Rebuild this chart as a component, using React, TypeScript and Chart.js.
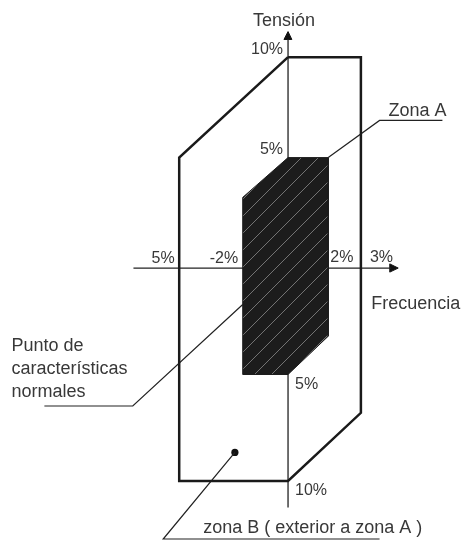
import React, { useEffect, useRef } from "react";
import { Chart, registerables, LinearScale } from "chart.js";

// ---------- data (deviation in %) ----------
// Zona B boundary (outer hexagon): [frequency %, voltage %]
const zoneBOutline: number[][] = [[0, 10], [3, 10], [3, -6.8], [0, -10], [-5, -10], [-5, 5], [0, 10]];
// Zona A (shaded)
const zoneAOutline: number[][] = [[0, 5], [2, 5], [2, -3.2], [0, -5], [-2, -5], [-2, 3.2], [0, 5]];
// Axes
const voltageAxis: number[][] = [[0, -11.25], [0, 10.85]];
const frequencyAxis: number[][] = [[-7.06, 0], [4.35, 0]];
const voltageArrow: number[][] = [[-0.18, 10.83], [0, 11.2], [0.19, 10.83], [-0.18, 10.83]];
const frequencyArrow: number[][] = [[4.3, 0.19], [4.68, 0], [4.3, -0.19], [4.3, 0.19]];
// Leader lines for the annotations
const leaderZonaA: number[][] = [[2, 5], [3.84, 6.85], [6.67, 6.85]];
const leaderPunto: number[][] = [[-2, -1.71], [-7.09, -6.48], [-11.07, -6.48]];
const leaderZonaB: number[][] = [[-2.37, -8.66], [-5.72, -12.73], [3.84, -12.73]];
const zonaBMarker: number[][] = [[-2.37, -8.66]];

// Tick labels
const voltageTickValues = [10, 5, -5, -10];
const voltageTickLabels = ["10%", "5%", "5%", "10%"];
const frequencyTickValues = [-5, -2, 2, 3];
const frequencyTickLabels = ["5%", "-2%", "2%", "3%"];

// Texts
const voltageTitle = "Tensión";
const frequencyTitle = "Frecuencia";
const zonaALabel = "Zona A";
const puntoLabel = ["Punto de", "características", "normales"];
const zonaBLabel = "zona B ( exterior a zona A )";

// Schematic (non-proportional) axis calibration: value -> drawing position
const X_KNOTS: number[][] = [[-5, -4.9], [-2, -2.04], [0, 0], [2, 1.81], [3, 3.28]];
const Y_KNOTS: number[][] = [[-10, -10], [-5, -5], [0, 0], [5, 5.19], [10, 9.91]];

function warp(v: number, k: number[][]): number {
  const n = k.length;
  if (v <= k[0][0]) return k[0][1] + (v - k[0][0]);
  if (v >= k[n - 1][0]) return k[n - 1][1] + (v - k[n - 1][0]);
  for (let i = 0; i < n - 1; i++) {
    if (v <= k[i + 1][0]) {
      const t = (v - k[i][0]) / (k[i + 1][0] - k[i][0]);
      return k[i][1] + t * (k[i + 1][1] - k[i][1]);
    }
  }
  return v;
}

class WarpScale extends LinearScale {
  static id = "warp";
  static defaults = {};
  getPixelForValue(value: number, index?: number) {
    const knots = (this as any).id === "x" ? X_KNOTS : Y_KNOTS;
    return super.getPixelForValue(warp(value, knots), index);
  }
}

Chart.register(...registerables, WarpScale);

const WORD_FONT = "18px 'Liberation Sans', Arial, sans-serif";
const TICK_FONT = "16px 'Liberation Sans', Arial, sans-serif";
const TEXT_COLOR = "#383838";

const pts = (a: number[][]) => a.map(([x, y]) => ({ x, y }));

function makeHatch(): CanvasPattern | string {
  const s = 17;
  const c = document.createElement("canvas");
  c.width = s;
  c.height = s;
  const g = c.getContext("2d");
  if (!g) return "#1c1c1c";
  g.fillStyle = "#1c1c1c";
  g.fillRect(0, 0, s, s);
  g.strokeStyle = "rgba(165,165,165,0.8)";
  g.lineWidth = 0.8;
  g.beginPath();
  g.moveTo(-2, s + 2);
  g.lineTo(s + 2, -2);
  g.moveTo(-2, 2);
  g.lineTo(2, -2);
  g.moveTo(s - 2, s + 2);
  g.lineTo(s + 2, s - 2);
  g.stroke();
  const p = g.createPattern(c, "repeat");
  return p || "#1c1c1c";
}

const labelPlugin = {
  id: "diagramLabels",
  afterDatasetsDraw(chart: any) {
    const { ctx } = chart;
    const xs = chart.scales.x;
    const ys = chart.scales.y;
    const px = (v: number) => xs.getPixelForValue(v);
    const py = (v: number) => ys.getPixelForValue(v);
    ctx.save();
    ctx.fillStyle = TEXT_COLOR;
    ctx.textBaseline = "alphabetic";
    const put = (t: string, x: number, y: number, align: CanvasTextAlign) => {
      ctx.textAlign = align;
      ctx.fillText(t, x, y);
    };
    ctx.font = TICK_FONT;
    voltageTickValues.forEach((v, i) => {
      if (v > 0) put(voltageTickLabels[i], px(0) - 5, py(v) - 3.5, "right");
      else put(voltageTickLabels[i], px(0) + 7, py(v) + 14.5, "left");
    });
    const lastF = frequencyTickValues[frequencyTickValues.length - 1];
    frequencyTickValues.forEach((v, i) => {
      if (v < 0) put(frequencyTickLabels[i], px(v) - 4.5, py(0) - 5, "right");
      else put(frequencyTickLabels[i], px(v) + (v === lastF ? 9 : 2), py(0) - 6, "left");
    });
    ctx.font = WORD_FONT;
    const vTip = voltageArrow[1];
    put(voltageTitle, px(vTip[0]) - 4, py(vTip[1]) - 6, "center");
    const fTip = frequencyArrow[1];
    put(frequencyTitle, px(fTip[0]) - 27, py(fTip[1]) + 41, "left");
    const za = leaderZonaA[1];
    put(zonaALabel, px(za[0]) + 9, py(za[1]) - 4, "left");
    const pe = leaderPunto[2];
    puntoLabel.forEach((t, i) => put(t, px(pe[0]) - 33, py(pe[1]) - 55 + i * 23, "left"));
    const zb = leaderZonaB[1];
    put(zonaBLabel, px(zb[0]) + 40, py(zb[1]) - 6, "left");
    ctx.restore();
  },
};

export default function App() {
  const ref = useRef<HTMLCanvasElement>(null);
  useEffect(() => {
    const canvas = ref.current;
    if (!canvas) return;
    const hatch = makeHatch();
    const line = (data: number[][], color: string, width: number, extra: any = {}) => ({
      data: pts(data),
      showLine: true,
      borderColor: color,
      borderWidth: width,
      backgroundColor: color,
      pointRadius: 0,
      tension: 0,
      fill: false,
      clip: false,
      borderJoinStyle: "miter",
      ...extra,
    });
    const chart = new Chart(canvas, {
      type: "scatter",
      data: {
        datasets: [
          line(zoneAOutline, "#1c1c1c", 1, { fill: "shape", backgroundColor: hatch }),
          line(zoneBOutline, "#1a1a1a", 2.5),
          line(voltageAxis, "#222222", 1.3),
          line(frequencyAxis, "#222222", 1.3),
          line(voltageArrow, "#111111", 1, { fill: "shape" }),
          line(frequencyArrow, "#111111", 1, { fill: "shape" }),
          line(leaderZonaA, "#222222", 1.2),
          line(leaderPunto, "#222222", 1.2),
          line(leaderZonaB, "#222222", 1.2),
          {
            data: pts(zonaBMarker),
            pointRadius: 3.6,
            pointBackgroundColor: "#111111",
            pointBorderWidth: 0,
            showLine: false,
            clip: false,
          },
        ] as any,
      },
      options: {
        responsive: false,
        animation: false,
        events: [],
        layout: { padding: 0 },
        plugins: { legend: { display: false }, tooltip: { enabled: false } },
        scales: {
          x: { type: "warp" as any, min: -12.788, max: 7.832, display: false },
          y: { type: "warp" as any, min: -12.87, max: 12.407, display: false },
        },
      } as any,
      plugins: [labelPlugin],
    });
    return () => chart.destroy();
  }, []);
  return (
    <div style={{ position: "fixed", left: 0, top: 0, width: 466, height: 546, background: "#ffffff" }}>
      <canvas ref={ref} width={466} height={546} style={{ display: "block", width: 466, height: 546 }} />
    </div>
  );
}
